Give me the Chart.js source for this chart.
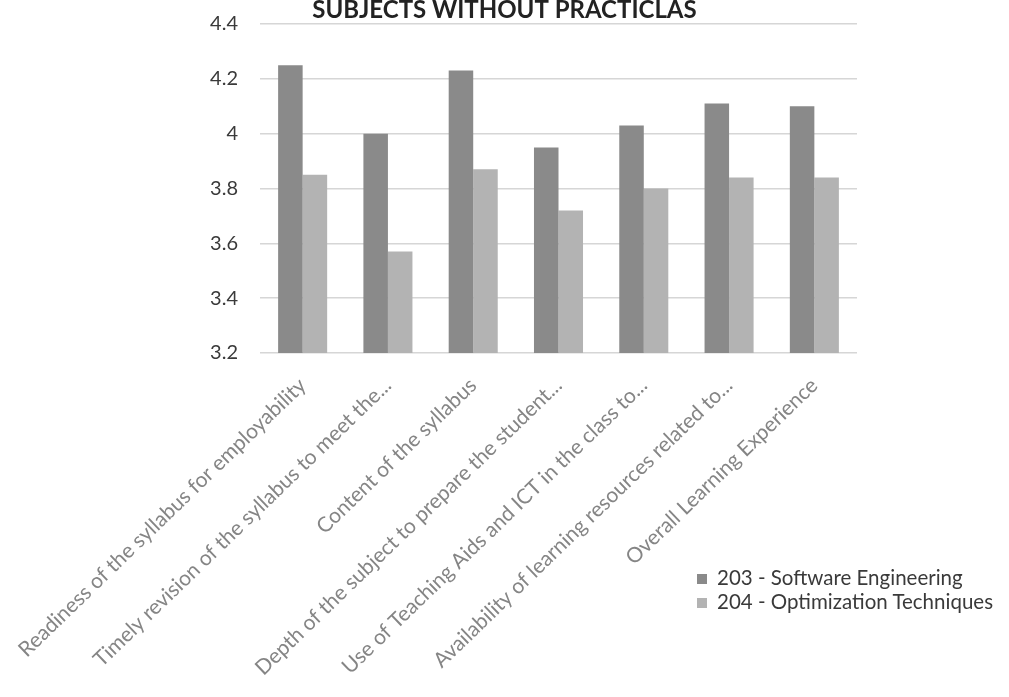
<!DOCTYPE html>
<html lang="en">
<head>
  <meta charset="UTF-8">
  <title>Subjects Without Practicals</title>
  <script src="https://cdn.jsdelivr.net/npm/chart.js"></script>
  <style>
    body { margin: 0; background: #fff; overflow: hidden; font-family: Lato, sans-serif; }
    #wrap { position: absolute; left: 0; top: -10px; width: 1009px; height: 707px; }
    #legend { position: absolute; left: 697px; top: 565px; font-size: 20.5px; color: #3a3a3a; }
    #legend div { height: 24px; line-height: 24px; white-space: nowrap; }
    #legend span { display: inline-block; width: 10px; height: 10px; margin-right: 10px; vertical-align: 1px; }
  </style>
</head>
<body>
  <div id="wrap"><canvas id="barChart"></canvas></div>
  <div id="legend"></div>

  <script>
    const categories = [
      'Readiness of the syllabus for employability',
      'Timely revision of the syllabus to meet the...',
      'Content of the syllabus',
      'Depth of the subject to prepare the student...',
      'Use of Teaching Aids and ICT in the class to...',
      'Availability of learning resources related to...',
      'Overall Learning Experience'
    ];
    const seriesNames = ['203 - Software Engineering', '204 - Optimization Techniques'];
    const softwareEngineering = [4.25, 4.0, 4.23, 3.95, 4.03, 4.11, 4.1];
    const optimizationTechniques = [3.85, 3.57, 3.87, 3.72, 3.8, 3.84, 3.84];
    const yTicks = [3.2, 3.4, 3.6, 3.8, 4.0, 4.2, 4.4];
    const barColors = ['#8a8a8a', '#b3b3b3'];

    const seriesValues = [softwareEngineering, optimizationTechniques];

    // html legend, bottom right
    const legend = document.getElementById('legend');
    seriesNames.forEach((name, i) => {
      const row = document.createElement('div');
      const box = document.createElement('span');
      box.style.background = barColors[i];
      row.appendChild(box);
      row.appendChild(document.createTextNode(name));
      legend.appendChild(row);
    });

    const ctx = document.getElementById('barChart').getContext('2d');
    new Chart(ctx, {
      type: 'bar',
      data: {
        labels: categories,
        datasets: seriesValues.map((vals, i) => ({
          label: seriesNames[i],
          data: vals,
          backgroundColor: barColors[i],
          borderWidth: 0,
          categoryPercentage: 0.575,
          barPercentage: 1
        }))
      },
      options: {
        responsive: true,
        maintainAspectRatio: false,
        animation: false,
        layout: { padding: 0 },
        plugins: {
          legend: { display: false },
          tooltip: { enabled: false },
          title: {
            display: true,
            text: 'SUBJECTS WITHOUT PRACTICLAS',
            color: '#222',
            font: { family: 'Lato', size: 24, weight: 'bold' },
            padding: { top: 1, bottom: -1 }
          }
        },
        scales: {
          x: {
            grid: { display: false },
            border: { display: false },
            ticks: {
              autoSkip: false,
              minRotation: 44,
              maxRotation: 44,
              padding: 12,
              color: '#858585',
              font: { family: 'Lato', size: 21 }
            },
            // fixed height, and no extra room for the long first label
            afterFit: s => { s.height = 344; s.paddingLeft = 0; s.paddingRight = 0; }
          },
          y: {
            min: yTicks[0],
            max: yTicks[yTicks.length - 1],
            afterBuildTicks: s => { s.ticks = yTicks.map(v => ({ value: v })); },
            grid: { color: '#d6d6d6', lineWidth: 1.5, drawTicks: false },
            border: { display: false },
            ticks: {
              padding: 22,
              color: '#3a3a3a',
              font: { family: 'Lato', size: 20 },
              callback: v => String(+v.toFixed(1))
            },
            afterFit: s => { s.width = 260; }
          },
          yRight: {
            position: 'right',
            display: true,
            grid: { display: false },
            border: { display: false },
            ticks: { display: false },
            afterFit: s => { s.width = 152; }
          }
        }
      }
    });
  </script>
</body>
</html>
